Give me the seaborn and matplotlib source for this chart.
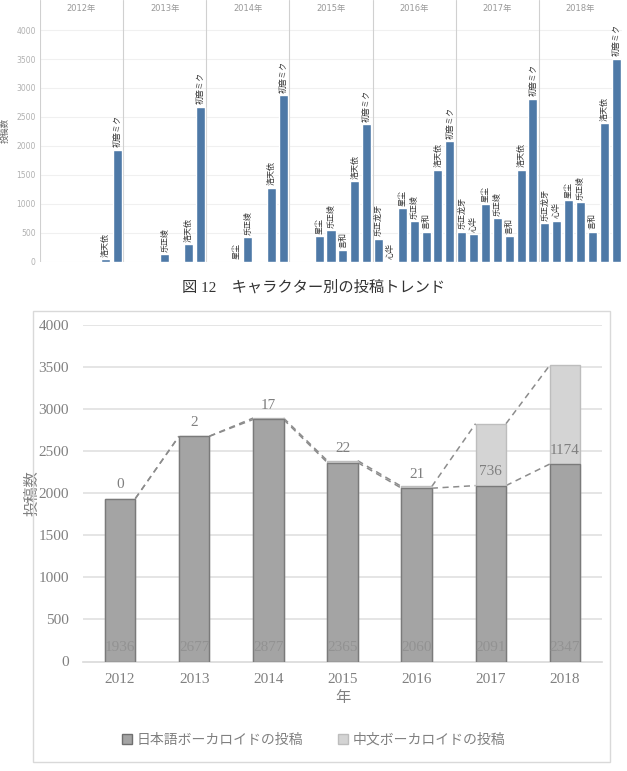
import numpy as np
import pandas as pd
import matplotlib
matplotlib.use("Agg")
import matplotlib.pyplot as plt
import seaborn as sns
from matplotlib.patches import Rectangle
from matplotlib.lines import Line2D

# ---- data: top chart (posts per character per year) ----
years = ["2012", "2013", "2014", "2015", "2016", "2017", "2018"]
characters = ["乐正龙牙", "心华", "星尘", "乐正绫", "言和", "洛天依", "初音ミク"]
char_posts = {
    "2012": [None, None, None, None, None, 40, 1936],
    "2013": [None, None, None, 130, None, 298, 2677],
    "2014": [None, None, 8, 419, None, 1278, 2877],
    "2015": [None, None, 441, 545, 199, 1394, 2380],
    "2016": [393, 8, 917, 703, 514, 1590, 2080],
    "2017": [514, 469, 997, 745, 440, 1590, 2815],
    "2018": [660, 705, 1062, 1027, 514, 2395, 3505],
}

# ---- data: bottom chart (Japanese vs Chinese vocaloid posts) ----
jp_posts = [1936, 2677, 2877, 2365, 2060, 2091, 2347]
cn_posts = [0, 2, 17, 22, 21, 736, 1174]
legend_labels = ["日本語ボーカロイドの投稿", "中文ボーカロイドの投稿"]

sns.set_theme(style="white")
plt.rcParams["font.family"] = ["Liberation Serif", "Noto Sans CJK JP"]
SANS = ["DejaVu Sans", "Noto Sans CJK JP"]

fig = plt.figure(figsize=(6.27, 7.71), dpi=100)

# ================= top chart =================
rows = []
for y in years:
    for c, v in zip(characters, char_posts[y]):
        if v is not None:
            rows.append({"slot": f"{y}-{c}", "posts": v, "char": c})
df = pd.DataFrame(rows)
order = [f"{y}-{c}" for y in years for c in characters]

ax1 = fig.add_axes([40 / 627, 1 - 261.5 / 771, 582 / 627, 261.5 / 771])
sns.barplot(data=df, x="slot", y="posts", order=order, color="#4e79a7",
            width=0.76, ax=ax1, saturation=1)
ymax_top = 261.5 / 0.05785
ax1.set_ylim(0, ymax_top)
ax1.set_xlim(-0.5, len(order) - 0.5)
ax1.set_yticks(np.arange(0, 4001, 500))
ax1.set_yticklabels([str(v) for v in range(0, 4001, 500)], family=SANS,
                    fontsize=5.5, color="#b0b0b0")
ax1.tick_params(axis="y", length=0, pad=3)
ax1.set_xticks([])
ax1.set_xlabel("")
ax1.set_ylabel("投稿数", family=SANS, fontsize=6, color="#666666", labelpad=5)
for s in ax1.spines.values():
    s.set_visible(False)
for v in range(0, 4001, 500):
    ax1.axhline(v, color="#f0f0f0", lw=0.8, zorder=0)

n = len(characters)
for i, y in enumerate(years):
    ax1.axvline(i * n - 0.5, color="#d0d0d0", lw=0.8, zorder=0)
    ax1.text(i * n + (n - 1) / 2, ymax_top - 8 / 0.05785, f"{y}年", ha="center",
             va="center", family=SANS, fontsize=6, color="#999999")
    for j, (c, v) in enumerate(zip(characters, char_posts[y])):
        if v is None:
            continue
        ax1.text(i * n + j, v + 40, c, rotation=90, ha="center", va="bottom",
                 family=SANS, fontsize=5.8, color="#333333")

# caption
fig.text(0.5, 1 - 287 / 771, "図 12　キャラクター別の投稿トレンド", ha="center",
         va="center", fontsize=11, color="#333333")

# ================= bottom chart =================
fig.patches.append(Rectangle((33 / 627, 1 - 762 / 771), 577 / 627, 451 / 771,
                             transform=fig.transFigure, fill=False,
                             edgecolor="#d9d9d9", lw=1))

ax2 = fig.add_axes([83 / 627, 1 - 661.5 / 771, 519 / 627, 336.5 / 771])
bw = 0.41
total = [a + b for a, b in zip(jp_posts, cn_posts)]
bdf = pd.DataFrame({"year": years, "jp": jp_posts, "total": total})
sns.barplot(data=bdf, x="year", y="total", color="#d4d4d4", width=bw,
            edgecolor="#bdbdbd", linewidth=1, ax=ax2, saturation=1, zorder=3)
sns.barplot(data=bdf, x="year", y="jp", color="#a4a4a4", width=bw,
            edgecolor="#7a7a7a", linewidth=1, ax=ax2, saturation=1, zorder=3)

ax2.set_ylim(0, 4000)
ax2.set_xlim(-0.5, len(years) - 0.5)
ax2.set_yticks(np.arange(0, 4001, 500))
for v in range(500, 4001, 500):
    ax2.axhline(v, color="#e3e3e3", lw=1.3, zorder=0)
ax2.tick_params(axis="y", length=0, pad=10, labelsize=11, labelcolor="#808080")
ax2.tick_params(axis="x", length=0, pad=8, labelsize=11, labelcolor="#808080")
ax2.set_xticks(np.arange(len(years)) + 0.5, minor=True)
ax2.tick_params(axis="x", which="minor", length=4, color="#d9d9d9", width=1)
for s in ["left", "right", "top"]:
    ax2.spines[s].set_visible(False)
ax2.spines["bottom"].set_color("#d9d9d9")
ax2.spines["bottom"].set_linewidth(1.2)
ax2.set_xlabel("年", fontsize=11, color="#808080", labelpad=4)
ax2.set_ylabel("投稿数", fontsize=11, color="#808080")
ax2.yaxis.set_label_coords((40 - 83) / 519, 0.5)

# series lines
for series in (jp_posts, total):
    for i in range(len(years) - 1):
        ax2.plot([i + bw / 2, i + 1 - bw / 2], [series[i], series[i + 1]],
                 ls=(0, (4, 3)), color="#8c8c8c", lw=1.1, zorder=2)

# data labels
for i in range(len(years)):
    ax2.text(i, 170, str(jp_posts[i]), ha="center", va="center", fontsize=11,
             color="#929292", zorder=4)
    ax2.text(i, jp_posts[i] + 165, str(cn_posts[i]), ha="center", va="center",
             fontsize=11, color="#7f7f7f", zorder=4)

handles = [Line2D([], [], marker="s", ls="", markersize=7,
                  markerfacecolor="#a4a4a4", markeredgecolor="#6f6f6f"),
           Line2D([], [], marker="s", ls="", markersize=7,
                  markerfacecolor="#d4d4d4", markeredgecolor="#bdbdbd")]
fig.legend(handles, legend_labels, loc="center", ncol=2,
           bbox_to_anchor=(0.5, 1 - 740 / 771), frameon=False, fontsize=10,
           labelcolor="#808080", handlelength=0.8, handletextpad=0.3,
           columnspacing=2.5)

fig.savefig("out.png", dpi=100)
